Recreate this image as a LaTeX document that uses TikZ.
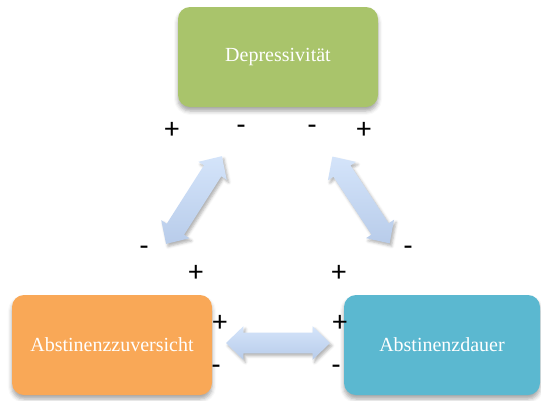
\documentclass[tikz,border=0pt]{standalone}
\usepackage{fontspec}
\setmainfont{Liberation Serif}
\newfontfamily\vzfont{Carlito}
\usetikzlibrary{shapes.arrows}
\usetikzlibrary{shadows.blur}
\usetikzlibrary{calc}

\definecolor{gruen}{RGB}{169,196,107}
\definecolor{orange}{RGB}{249,168,87}
\definecolor{blau}{RGB}{91,184,208}
\definecolor{pfeiloben}{RGB}{212,228,250}
\definecolor{pfeilunten}{RGB}{184,204,234}

\tikzset{
  kasten/.style={rectangle, rounded corners=9pt, minimum width=150pt, minimum height=75pt,
    inner sep=0pt, text=white, font=\fontsize{15}{15}\selectfont,
    blur shadow={shadow xshift=0pt, shadow yshift=-3pt, shadow blur radius=3pt, shadow opacity=35}},
  doppelpfeil/.style={double arrow, inner sep=7.5pt, minimum width=24.75pt, minimum height=78pt,
    double arrow head extend=4.9pt, double arrow tip angle=88,
    top color=pfeiloben, bottom color=pfeilunten, draw=none,
    blur shadow={shadow xshift=1.5pt, shadow yshift=-2pt, shadow blur radius=2pt, shadow opacity=30}},
  vz/.style={inner sep=0pt, font=\vzfont\fontsize{22}{22}\selectfont}
}

\begin{document}
\begin{tikzpicture}[x=0.75pt,y=0.75pt,yscale=-1,xscale=1]
\useasboundingbox (0,0) rectangle (541,400);

% Kaesten
\node (dep) [kasten, fill=gruen] at (278,57) {Depressivität};
\node (zuv) [kasten, fill=orange] at (112,345) {Abstinenzzuversicht};
\node (dau) [kasten, fill=blau, minimum width=147pt] at (442,345) {Abstinenzdauer};

% Pfeilspitzen
\coordinate (lu) at (166,244);
\coordinate (lo) at (222,156);
\coordinate (ro) at (332,156);
\coordinate (ru) at (390,244);
\coordinate (ml) at (226,343);
\coordinate (mr) at (330,343);

% Pfeile
\node (pl) [doppelpfeil, rotate=57.5] at ($(lu)!0.5!(lo)$) {};
\node (pr) [doppelpfeil, rotate=-56.6] at ($(ro)!0.5!(ru)$) {};
\node (pm) [doppelpfeil] at ($(ml)!0.5!(mr)$) {};

% Vorzeichen oben
\node (v1) [vz] at (172,130) {+};
\node (v2) [vz] at (241,130) {-};
\node (v3) [vz] at (312,130) {-};
\node (v4) [vz] at (364,130) {+};
% Vorzeichen Mitte
\node (v5) [vz] at (144,251) {-};
\node (v6) [vz] at (196,273) {+};
\node (v7) [vz] at (339,273) {+};
\node (v8) [vz] at (408,251) {-};
% Vorzeichen unten
\node (v9) [vz] at (220,323) {+};
\node (v10) [vz] at (216,370) {-};
\node (v11) [vz] at (340,323) {+};
\node (v12) [vz] at (336,370) {-};

\end{tikzpicture}
\end{document}
